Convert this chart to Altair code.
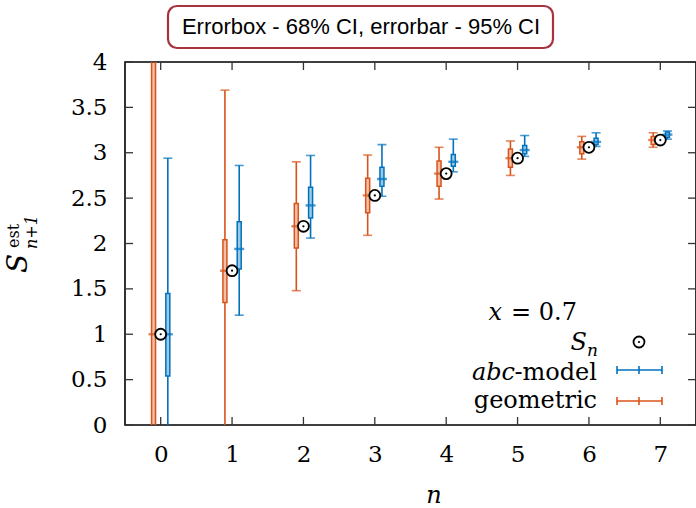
import altair as alt
import pandas as pd

# ---------------- data ----------------
n_vals = [0, 1, 2, 3, 4, 5, 6, 7]
s_n = [1.00, 1.70, 2.19, 2.53, 2.77, 2.94, 3.06, 3.14]

geo_center = [1.00, 1.70, 2.19, 2.53, 2.77, 2.94, 3.06, 3.14]
geo_box_lo = [-2.00, 1.35, 1.95, 2.34, 2.63, 2.84, 2.99, 3.09]
geo_box_hi = [5.00, 2.04, 2.44, 2.72, 2.91, 3.04, 3.12, 3.18]
geo_bar_lo = [-3.00, -0.50, 1.48, 2.09, 2.49, 2.75, 2.93, 3.06]
geo_bar_hi = [7.00, 3.69, 2.90, 2.975, 3.06, 3.13, 3.18, 3.22]

abc_center = [1.00, 1.94, 2.42, 2.71, 2.90, 3.03, 3.12, 3.20]
abc_box_lo = [0.54, 1.72, 2.28, 2.63, 2.85, 2.99, 3.09, 3.17]
abc_box_hi = [1.45, 2.24, 2.62, 2.84, 2.98, 3.08, 3.16, 3.23]
abc_bar_lo = [-0.50, 1.21, 2.06, 2.52, 2.79, 2.96, 3.07, 3.15]
abc_bar_hi = [2.94, 2.86, 2.97, 3.09, 3.15, 3.19, 3.22, 3.24]

series_names = ["abc", "geo"]
x_ticks = [0, 1, 2, 3, 4, 5, 6, 7]
y_ticks = [0, 0.5, 1, 1.5, 2, 2.5, 3, 3.5, 4]

BLUE = "#0072bd"
ORANGE = "#d95319"
W, H = 571, 363
SERIF = "DejaVu Serif"

rows = []
for name, off, c, blo, bhi, elo, ehi in [
    ("abc", 0.1, abc_center, abc_box_lo, abc_box_hi, abc_bar_lo, abc_bar_hi),
    ("geo", -0.1, geo_center, geo_box_lo, geo_box_hi, geo_bar_lo, geo_bar_hi),
]:
    for i, n in enumerate(n_vals):
        rows.append(dict(series=name, n=n, xpos=n + off, center=c[i],
                         box_lo=blo[i], box_hi=bhi[i], bar_lo=elo[i], bar_hi=ehi[i]))
df = pd.DataFrame(rows)
df_s = pd.DataFrame({"n": n_vals, "s": s_n})
df_xt = pd.DataFrame({"v": x_ticks})
df_yt = pd.DataFrame({"v": y_ticks})

xscale = alt.Scale(domain=[-0.5, 7.5], nice=False, zero=False, padding=0)
yscale = alt.Scale(domain=[0, 4], nice=False, zero=False, padding=0)
cscale = alt.Scale(domain=series_names, range=[BLUE, ORANGE])

ax_x = alt.Axis(values=x_ticks, ticks=False, domain=False, grid=False,
                labelFont=SERIF, labelFontSize=23, labelPadding=18,
                labelColor="black", title=None, format="d")
ax_y = alt.Axis(values=y_ticks, ticks=False, domain=False, grid=False,
                labelFont=SERIF, labelFontSize=23, labelPadding=18,
                labelColor="black", title=None, format="~g")


def XQ(field):
    return alt.X(field, type="quantitative", scale=xscale, axis=ax_x, title=None)


def YQ(field):
    return alt.Y(field, type="quantitative", scale=yscale, axis=ax_y, title=None)


base = alt.Chart(df)
col = alt.Color("series:N", scale=cscale, legend=None)
stk = alt.Stroke("series:N", scale=cscale, legend=None)

whisk_lo = base.mark_rule(clip=True, strokeWidth=1.6).encode(
    x=XQ("xpos"), y=YQ("bar_lo"), y2="box_lo:Q", color=col)
whisk_hi = base.mark_rule(clip=True, strokeWidth=1.6).encode(
    x=XQ("xpos"), y=YQ("box_hi"), y2="bar_hi:Q", color=col)
cap_lo = base.mark_tick(clip=True, orient="horizontal", size=9, thickness=1.6).encode(
    x=XQ("xpos"), y=YQ("bar_lo"), color=col)
cap_hi = base.mark_tick(clip=True, orient="horizontal", size=9, thickness=1.6).encode(
    x=XQ("xpos"), y=YQ("bar_hi"), color=col)
box = base.mark_bar(clip=True, size=4, fillOpacity=0.38, strokeWidth=1.5).encode(
    x=XQ("xpos"), y=YQ("box_lo"), y2="box_hi:Q", fill=col, stroke=stk)
mid = base.mark_tick(clip=True, orient="horizontal", size=10, thickness=2.4).encode(
    x=XQ("xpos"), y=YQ("center"), color=col)

circ = alt.Chart(df_s).mark_point(shape="circle", size=120, filled=True, fill="white",
                                  stroke="black", strokeWidth=1.8, opacity=1).encode(
    x=XQ("n"), y=YQ("s"))
dot = alt.Chart(df_s).mark_point(shape="circle", size=5, filled=True, color="black",
                                 opacity=1).encode(x=XQ("n"), y=YQ("s"))

# inward ticks
TC = "#333333"
ytl = alt.Chart(df_yt).mark_rule(color=TC, strokeWidth=1.3).encode(
    y=YQ("v"), x=alt.value(0), x2=alt.value(8))
ytr = alt.Chart(df_yt).mark_rule(color=TC, strokeWidth=1.3).encode(
    y=YQ("v"), x=alt.value(W - 8), x2=alt.value(W))
xtb = alt.Chart(df_xt).mark_rule(color=TC, strokeWidth=1.3).encode(
    x=XQ("v"), y=alt.value(H), y2=alt.value(H - 8))
xtt = alt.Chart(df_xt).mark_rule(color=TC, strokeWidth=1.3).encode(
    x=XQ("v"), y=alt.value(0), y2=alt.value(8))

one = alt.Chart(df_s.head(1))

# title box
tbox = one.mark_rect(cornerRadius=9, fill="white", stroke="#a8323e",
                     strokeWidth=2.2).encode(
    x=alt.value(43), x2=alt.value(428), y=alt.value(-56), y2=alt.value(-14))
ttext = one.mark_text(text="Errorbox - 68% CI, errorbar - 95% CI",
                      font="Liberation Sans", fontSize=22, align="center",
                      baseline="middle", color="black").encode(
    x=alt.value(236), y=alt.value(-35))


def txt(s, x, y, size, italic=False, align="left", baseline="alphabetic", angle=0):
    kw = dict(text=s, font=SERIF, fontSize=size, align=align, baseline=baseline,
              color="black")
    if italic:
        kw["fontStyle"] = "italic"
    if angle:
        kw["angle"] = angle
    return one.mark_text(**kw).encode(x=alt.value(x), y=alt.value(y))


texts = [
    # axis titles
    txt("n", 309, 441, 24, italic=True, align="center"),
    txt("S", -98, 211, 28, italic=True, angle=270),
    txt("est", -106, 186, 16, angle=270),
    txt("n+1", -88, 187, 16, italic=True, angle=270),
    # legend
    txt("x", 377, 258, 24, italic=True, align="right"),
    txt("= 0.7", 452, 258, 24, align="right"),
    txt("S", 462, 288, 24, italic=True, align="right"),
    txt("n", 462, 294, 17, italic=True, align="left"),
    txt("abc", 390, 318, 24, italic=True, align="right"),
    txt("-model", 472, 318, 24, align="right"),
    txt("geometric", 472, 346, 24, align="right"),
]

leg = []
for color, yy in [(BLUE, 308), (ORANGE, 339)]:
    leg.append(one.mark_rule(color=color, strokeWidth=1.6).encode(
        x=alt.value(492), x2=alt.value(537), y=alt.value(yy)))
    for xx in [492, 514, 537]:
        leg.append(one.mark_rule(color=color, strokeWidth=1.6).encode(
            x=alt.value(xx), y=alt.value(yy - 4), y2=alt.value(yy + 4)))
leg.append(one.mark_point(shape="circle", size=120, filled=False, stroke="black",
                          strokeWidth=1.8, opacity=1).encode(x=alt.value(514), y=alt.value(280)))
leg.append(one.mark_point(shape="circle", size=5, filled=True, color="black",
                          opacity=1).encode(x=alt.value(514), y=alt.value(280)))

chart = alt.layer(
    ytl, ytr, xtb, xtt, whisk_lo, whisk_hi, cap_lo, cap_hi, box, mid, circ, dot,
    tbox, ttext, *texts, *leg
).properties(
    width=W, height=H,
    autosize=alt.AutoSizeParams(type="none"),
    padding={"left": 125, "top": 62, "right": 0, "bottom": 83},
    background="white",
).configure_view(stroke="black", strokeWidth=1.6)

chart.save("out.html", embed_options={"renderer": "svg", "actions": False})
